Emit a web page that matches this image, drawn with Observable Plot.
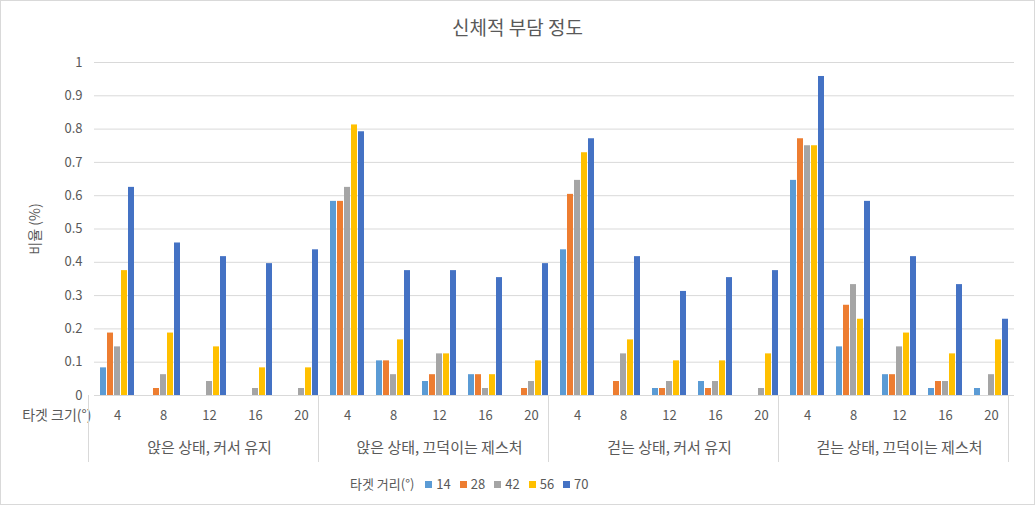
<!DOCTYPE html>
<html><head><meta charset="utf-8">
<script src="https://cdn.jsdelivr.net/npm/d3@7"></script>
<script src="https://cdn.jsdelivr.net/npm/@observablehq/plot@0.6"></script>
<style>
body{margin:0;background:#fff;}
#wrap{width:1035px;height:505px;box-sizing:border-box;border:1px solid #d9d9d9;position:relative;font-family:"Noto Sans CJK KR","Noto Sans",sans-serif;color:#595959;overflow:hidden;background:#fff}
#title{position:absolute;top:13px;left:0;width:100%;text-align:center;font-size:19px;line-height:26px;color:#595959}
#chart{position:absolute;top:39px;left:0}
#ylabel{position:absolute;left:33px;top:228px;transform:translate(-50%,-50%) rotate(-90deg);font-size:14px;line-height:18px;white-space:nowrap;color:#595959}
#legend{position:absolute;top:474px;left:349px;display:flex;align-items:center;font-size:13px;line-height:18px;color:#595959}
#legend .sw{display:inline-block;width:7px;height:7px;margin:0 4px 0 9px}
</style></head>
<body>
<div id="wrap">
  <div id="title">신체적 부담 정도</div>
  <div id="chart"></div>
  <div id="ylabel">비율 (%)</div>
  <div id="legend"></div>
</div>
<script>
const conditions = ["앉은 상태, 커서 유지", "앉은 상태, 끄덕이는 제스처", "걷는 상태, 커서 유지", "걷는 상태, 끄덕이는 제스처"];
const sizes = [4, 8, 12, 16, 20];
const distances = ["14", "28", "42", "56", "70"];
const colors = ["#5B9BD5", "#ED7D31", "#A5A5A5", "#FFC000", "#4472C4"];
const yTicks = [0, 0.1, 0.2, 0.3, 0.4, 0.5, 0.6, 0.7, 0.8, 0.9, 1];
// values[size][distance] per condition
const sitHold = [
  [0.083, 0.1875, 0.146, 0.375, 0.625],
  [0, 0.021, 0.0625, 0.1875, 0.458],
  [0, 0, 0.042, 0.146, 0.417],
  [0, 0, 0.021, 0.083, 0.396],
  [0, 0, 0.021, 0.083, 0.4375]
];
const sitNod = [
  [0.583, 0.583, 0.625, 0.8125, 0.792],
  [0.104, 0.104, 0.0625, 0.167, 0.375],
  [0.042, 0.0625, 0.125, 0.125, 0.375],
  [0.0625, 0.0625, 0.021, 0.0625, 0.354],
  [0, 0.021, 0.042, 0.104, 0.396]
];
const walkHold = [
  [0.4375, 0.604, 0.646, 0.729, 0.771],
  [0, 0.042, 0.125, 0.167, 0.417],
  [0.021, 0.021, 0.042, 0.104, 0.3125],
  [0.042, 0.021, 0.042, 0.104, 0.354],
  [0, 0, 0.021, 0.125, 0.375]
];
const walkNod = [
  [0.646, 0.771, 0.75, 0.75, 0.958],
  [0.146, 0.271, 0.333, 0.229, 0.583],
  [0.0625, 0.0625, 0.146, 0.1875, 0.417],
  [0.021, 0.042, 0.042, 0.125, 0.333],
  [0.021, 0, 0.0625, 0.167, 0.229]
];
const seriesByCond = [sitHold, sitNod, walkHold, walkNod];

const cats = [];
const rows = [];
conditions.forEach((cond, ci) => {
  sizes.forEach((size, si) => {
    const key = ci + "|" + size;
    cats.push({key, cond, size});
    distances.forEach((dist, di) => {
      rows.push({key, cond, size, dist, value: seriesByCond[ci][si][di]});
    });
  });
});
const keys = cats.map(d => d.key);
const firstFacet = () => keys[0];

const chart = Plot.plot({
  width: 1033,
  height: 427,
  marginTop: 22,
  marginBottom: 72,
  marginLeft: 87,
  marginRight: 14,
  style: {fontFamily: "'Noto Sans CJK KR','Noto Sans',sans-serif", fontSize: "13px", color: "#595959", background: "transparent", overflow: "visible"},
  fx: {domain: keys, padding: 0, axis: null, label: null},
  x: {domain: distances, paddingInner: 0.2, paddingOuter: 0.8, axis: null},
  y: {domain: [0, 1], axis: null},
  color: {domain: distances, range: colors},
  marks: [
    Plot.ruleY(yTicks, {stroke: "#d9d9d9", strokeWidth: 1}),
    Plot.barY(rows, {fx: "key", x: "dist", y: "value", fill: "dist"}),
    Plot.text(yTicks, {fx: firstFacet, y: d => d, text: d => String(+d.toFixed(1)), frameAnchor: "left", textAnchor: "end", dx: -12, fontSize: 13, fill: "#595959"}),
    Plot.text(cats, {fx: "key", text: d => String(d.size), frameAnchor: "bottom", dy: 24, fontSize: 13, fill: "#595959"}),
    Plot.text(cats.filter(d => d.size === 12), {fx: "key", text: "cond", frameAnchor: "bottom", dy: 57, fontSize: 15, fill: "#595959"}),
    Plot.text(["타겟 크기(°)"], {fx: firstFacet, text: d => d, frameAnchor: "bottom-left", textAnchor: "end", dx: -3, dy: 24, fontSize: 14, fill: "#595959"})
  ]
});
document.getElementById("chart").appendChild(chart);

// group separators below the category axis, from the facet scale
const fxs = chart.scale("fx");
const ys = chart.scale("y");
const range = fxs.range;
const step = fxs.step || (range[1] - range[0]) / keys.length;
const y0 = ys.range ? ys.range[0] : 355;
const edges = [];
conditions.forEach((c, ci) => edges.push(range[0] + ci * sizes.length * step));
edges.push(range[0] + keys.length * step);
d3.select(chart).append("g").attr("stroke", "#d9d9d9")
  .selectAll("line").data(edges).join("line")
  .attr("x1", d => Math.round(d) + 0.5).attr("x2", d => Math.round(d) + 0.5)
  .attr("y1", y0).attr("y2", y0 + 67);

// legend
const lg = d3.select("#legend");
lg.append("span").text("타겟 거리(°)").style("margin-right", "2px");
distances.forEach((d, i) => {
  lg.append("span").attr("class", "sw").style("background", colors[i]);
  lg.append("span").text(d);
});
</script>
</body></html>
